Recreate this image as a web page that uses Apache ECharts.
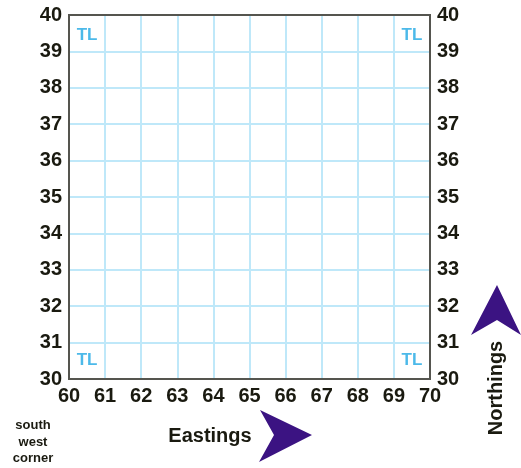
<!DOCTYPE html>
<html>
<head>
<meta charset="utf-8">
<script src="https://cdn.jsdelivr.net/npm/echarts@6/dist/echarts.min.js"></script>
<style>
html,body{margin:0;padding:0;background:#fff;}
#c{width:521px;height:468px;}
</style>
</head>
<body>
<div id="c"></div>
<script>
// Data
const eastingMin = 60, eastingMax = 70;
const northingMin = 30, northingMax = 40;
const cornerLabelX = [60.5, 69.5, 60.5, 69.5];
const cornerLabelY = [39.45, 39.45, 30.5, 30.5];
const cornerLabelText = ['TL', 'TL', 'TL', 'TL'];
const xAxisTitle = 'Eastings';
const yAxisTitle = 'Northings';
const cornerNote = 'south\nwest\ncorner';

const txtColor = '#1a1a10';
const font = 'Liberation Sans, Arial, Helvetica, sans-serif';
const axisLabel = {fontFamily: font, fontWeight: 'bold', fontSize: 20, color: txtColor};
const split = {show: true, showMinLine: false, showMaxLine: false, lineStyle: {color: '#bfe8f9', width: 2}};

const chart = echarts.init(document.getElementById('c'), null, {renderer: 'canvas'});
chart.setOption({
  animation: false,
  grid: {left: 69, top: 15, right: 91, bottom: 89, show: true, borderColor: '#55554f', borderWidth: 2, backgroundColor: 'transparent', z: 10},
  xAxis: {
    type: 'value', min: eastingMin, max: eastingMax, interval: 1,
    axisLine: {show: false}, axisTick: {show: false},
    axisLabel: Object.assign({margin: 7}, axisLabel),
    splitLine: split
  },
  yAxis: [{
    type: 'value', min: northingMin, max: northingMax, interval: 1, position: 'left',
    axisLine: {show: false}, axisTick: {show: false},
    axisLabel: Object.assign({margin: 7, padding: [3, 0, 0, 0]}, axisLabel),
    splitLine: split
  }, {
    type: 'value', min: northingMin, max: northingMax, interval: 1, position: 'right',
    axisLine: {show: false}, axisTick: {show: false},
    axisLabel: Object.assign({margin: 7, padding: [3, 0, 0, 0]}, axisLabel),
    splitLine: {show: false}
  }],
  series: [{
    type: 'scatter',
    symbolSize: 0,
    data: cornerLabelX.map((x, i) => [x, cornerLabelY[i], cornerLabelText[i]]),
    label: {
      show: true, position: 'inside',
      formatter: p => p.data[2],
      color: '#1fa8e4', fontFamily: font, fontWeight: 'bold', fontSize: 17
    },
    z: 5
  }],
  graphic: [
    {type: 'polygon', shape: {points: [[260, 410], [312, 435], [259, 462], [274, 435]]}, style: {fill: '#3b1382'}},
    {type: 'polygon', shape: {points: [[497, 285], [521, 335], [497, 320], [471, 335]]}, style: {fill: '#3b1382'}},
    {type: 'text', x: 210, y: 436, style: {text: xAxisTitle, fill: txtColor, font: 'bold 20px ' + font, align: 'center', verticalAlign: 'middle'}},
    {type: 'text', x: 496, y: 388, rotation: Math.PI / 2, style: {text: yAxisTitle, fill: txtColor, font: 'bold 20px ' + font, align: 'center', verticalAlign: 'middle'}},
    {type: 'text', x: 33, y: 442, style: {text: cornerNote, fill: txtColor, font: 'bold 13px ' + font, align: 'center', verticalAlign: 'middle', lineHeight: 16.5}}
  ]
});
</script>
</body>
</html>
